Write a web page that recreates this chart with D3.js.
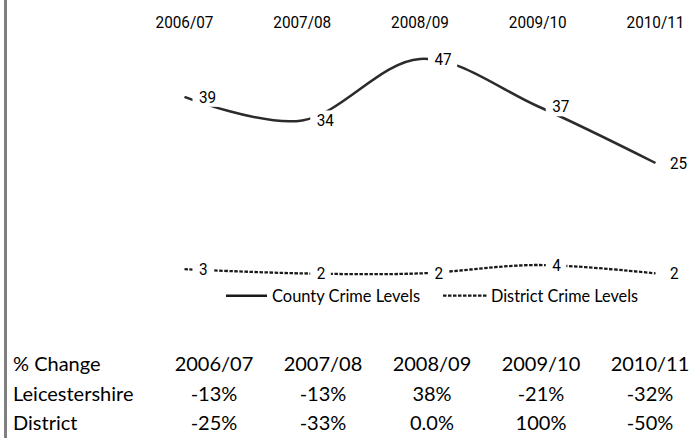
<!DOCTYPE html>
<html><head><meta charset="utf-8">
<script src="https://cdn.jsdelivr.net/npm/d3@7"></script>
<style>html,body{margin:0;padding:0;background:#fff;} svg{display:block}</style>
</head><body>
<svg id="chart" width="689" height="438"></svg>
<script>
// ---- data ----
const years = ["2006/07","2007/08","2008/09","2009/10","2010/11"];
const countyCrime = [39,34,47,37,25];
const districtCrime = [3,2,2,4,2];
const legendLabels = ["County Crime Levels","District Crime Levels"];
const tableTitle = "% Change";
const rowLabels = ["Leicestershire","District"];
const leicesterChange = ["-13%","-13%","38%","-21%","-32%"];
const districtChange = ["-25%","-33%","0.0%","100%","-50%"];

// ---- drawing ----
const svg = d3.select("#chart");
svg.append("rect").attr("x",0).attr("y",0).attr("width",689).attr("height",438).attr("fill","#fff");
svg.append("rect").attr("x",4).attr("y",0).attr("width",3).attr("height",438).attr("fill","#808080");

const x = d3.scalePoint().domain(years).range([184.5, 655.5]);
const yCounty = d3.scaleLinear().domain([0,50]).range([281.2, 44.8]);
const yDistrict = d3.scaleLinear().domain([0,5]).range([281.8, 260.8]);

const labelFont = "Roboto, 'DejaVu Sans', sans-serif";
const sx = 0.9;

// category headers
svg.append("g").selectAll("text").data(years).join("text")
  .attr("transform", d => `translate(${x(d)},28) scale(${sx},1)`)
  .attr("text-anchor","middle")
  .attr("font-family", labelFont).attr("font-size", 17).attr("fill","#000")
  .text(d => d);

const curve = d3.curveCardinal.tension(0);
const countyPts = years.map((d,i)=>({cat:d, v:countyCrime[i], y:yCounty(countyCrime[i])}));
const districtPts = years.map((d,i)=>({cat:d, v:districtCrime[i], y:yDistrict(districtCrime[i])}));

const line = d3.line().x(d=>x(d.cat)).y(d=>d.y).curve(curve);
svg.append("path").attr("d", line(countyPts)).attr("fill","none")
  .attr("stroke","#2b2b2b").attr("stroke-width",2.5);
svg.append("path").attr("d", line(districtPts)).attr("fill","none")
  .attr("stroke","#1a1a1a").attr("stroke-width",2.3).attr("stroke-dasharray","3.5,1.5");

function drawLabels(pts){
  const g = svg.append("g");
  pts.forEach(p=>{
    const bg = g.append("rect").attr("fill","#fff");
    const t = g.append("text")
      .attr("transform", `translate(${x(p.cat)+14.5},${p.y+6}) scale(${sx},1)`)
      .attr("font-family", labelFont).attr("font-size",17).attr("fill","#000")
      .text(p.v);
    const w = t.node().getBBox().width * sx;
    bg.attr("x", x(p.cat)+8).attr("y", p.y-10).attr("width", w+12).attr("height",20);
  });
}
drawLabels(countyPts);
drawLabels(districtPts);

// legend
const lg = svg.append("g");
lg.append("line").attr("x1",226).attr("x2",267).attr("y1",295.7).attr("y2",295.7)
  .attr("stroke","#1a1a1a").attr("stroke-width",2.5);
lg.append("text").attr("x",272).attr("y",301.5).attr("font-family","Lato, sans-serif")
  .attr("font-size",17).attr("textLength",148).attr("lengthAdjust","spacingAndGlyphs")
  .attr("fill","#000").text(legendLabels[0]);
lg.append("line").attr("x1",443).attr("x2",487).attr("y1",295.7).attr("y2",295.7)
  .attr("stroke","#1a1a1a").attr("stroke-width",2.3).attr("stroke-dasharray","3.5,1.5");
lg.append("text").attr("x",491).attr("y",301.5).attr("font-family","Lato, sans-serif")
  .attr("font-size",17).attr("textLength",147).attr("lengthAdjust","spacingAndGlyphs")
  .attr("fill","#000").text(legendLabels[1]);

// table
const tx = d3.scalePoint().domain(years).range([214, 650]);
const tableFont = "Lato, sans-serif";
const rows = [
  {label: tableTitle, cells: years, y: 370.5},
  {label: rowLabels[0], cells: leicesterChange, y: 401},
  {label: rowLabels[1], cells: districtChange, y: 430}
];
const tg = svg.append("g").attr("font-family", tableFont).attr("font-size",20).attr("fill","#000");
rows.forEach(r=>{
  tg.append("text").attr("x",13).attr("y",r.y).text(r.label);
  tg.selectAll(null).data(r.cells).join("text")
    .attr("x",(d,i)=>tx(years[i])).attr("y",r.y).attr("text-anchor","middle").text(d=>d);
});
</script>
</body></html>
